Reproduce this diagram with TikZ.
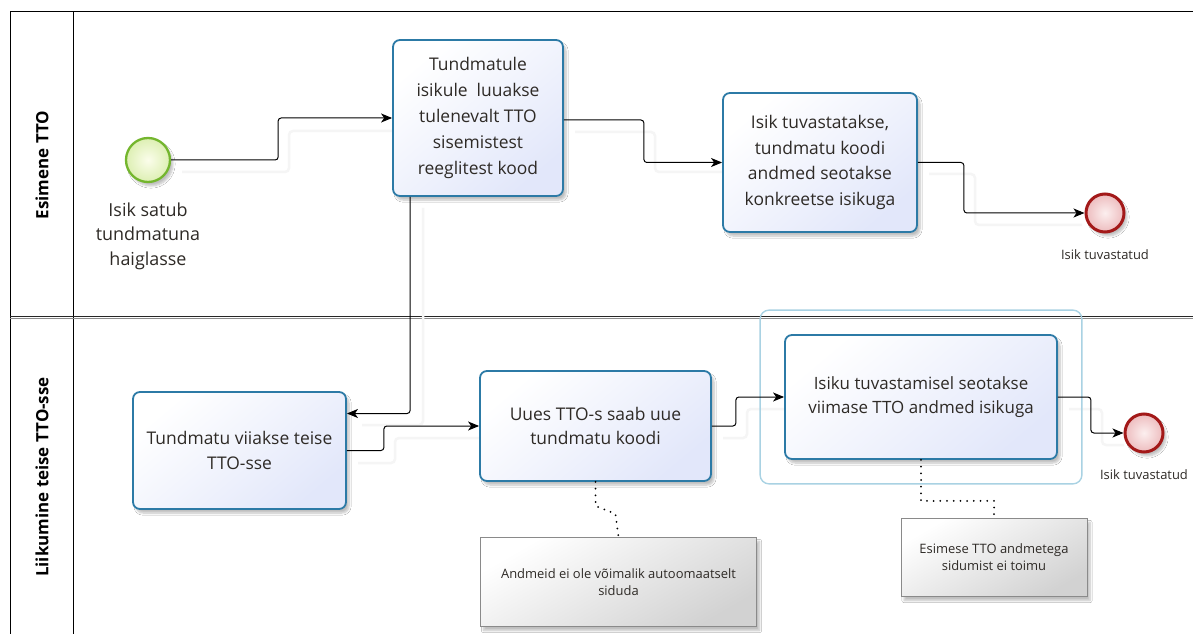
\documentclass[tikz,border=0pt]{standalone}
\usepackage{fontspec}
\setmainfont{Open Sans}
\usetikzlibrary{arrows.meta,shadows.blur,fit}
\definecolor{taskedge}{HTML}{2C7AA6}
\definecolor{taskfill}{HTML}{E2E7FA}
\definecolor{startedge}{HTML}{74B62E}
\definecolor{startin}{HTML}{FBFDEB}
\definecolor{startout}{HTML}{DDEFB3}
\definecolor{endedge}{HTML}{A31919}
\definecolor{endin}{HTML}{FCEFEF}
\definecolor{endout}{HTML}{EDBCBE}
\definecolor{notefill}{HTML}{D2D2D2}
\definecolor{noteedge}{HTML}{8A8A8A}
\definecolor{selblue}{HTML}{A9D2E3}
\definecolor{ink}{HTML}{2E2A26}
\begin{document}
\begin{tikzpicture}[x=1bp,y=-1bp,
  softshadow/.style={blur shadow={shadow xshift=3bp, shadow yshift=-4bp,
      shadow blur steps=6, shadow opacity=25}},
  task/.style={draw=taskedge, line width=1.8bp, rounded corners=7bp,
      top color=white, bottom color=taskfill, shading angle=40,
      softshadow, align=center, text=ink, inner sep=2bp,
      font=\fontsize{17.5}{26}\selectfont},
  startev/.style={circle, minimum size=44bp, inner sep=0pt, draw=startedge,
      line width=2.3bp, inner color=startin, outer color=startout, softshadow},
  endev/.style={circle, minimum size=38bp, inner sep=0pt, draw=endedge,
      line width=3bp, inner color=endin, outer color=endout, softshadow},
  evlabel/.style={align=center, text=ink, inner sep=0pt},
  note/.style={draw=noteedge, line width=0.8bp, top color=white,
      bottom color=notefill, shading angle=30, softshadow,
      align=center, text=ink, inner sep=2bp,
      font=\fontsize{13}{17}\selectfont},
  lanelabel/.style={rotate=90, font=\bfseries\fontsize{17}{20}\selectfont, text=black},
  flow/.style={draw=black, line width=1bp, rounded corners=3bp,
      -{Stealth[length=11bp,width=9bp,inset=3bp]}},
  ghost/.style={draw=black!4, line width=2.5bp, rounded corners=4bp},
  assoc/.style={draw=black, line width=2bp, line cap=round,
      dash pattern=on 0bp off 6.7bp},
  selbox/.style={draw=selblue, line width=1.4bp, rounded corners=9bp, inner sep=24bp}
]
\useasboundingbox (0,0) rectangle (1193,634);
\fill[white] (0,0) rectangle (1193,634);

% pool and lanes
\draw[line width=1bp] (1193,12) -- (10,12) -- (10,634);
\draw[line width=1bp] (73,12) -- (73,634);
\draw[line width=1bp, black!85] (10,316) -- (1193,316);
\draw[line width=1bp, black!45] (10,318.5) -- (1193,318.5);
\node[lanelabel] (lane1) at (42,165) {Esimene TTO};
\node[lanelabel] (lane2) at (42,477) {Liikumine teise TTO-sse};

% faint ghost copies of the sequence flows
\begin{scope}[shift={(12,12)}]
  \draw[ghost] (170,160) -- (277,160) -- (277,119) -- (380,119);
  \draw[ghost] (563,120) -- (643,120) -- (643,160) -- (710,160);
  \draw[ghost] (917,162) -- (963,162) -- (963,213) -- (1070,213);
  \draw[ghost] (411,196) -- (411,413) -- (350,413);
  \draw[ghost] (346,451) -- (383,451) -- (383,426) -- (468,426);
  \draw[ghost] (711,426) -- (735,426) -- (735,397) -- (772,397);
  \draw[ghost] (1057,397) -- (1090,397) -- (1090,433) -- (1112,433);
\end{scope}

% events
\node[startev] (s) at (148,160) {};
\node[evlabel, font=\fontsize{18}{24.5}\selectfont] (sl) at (148,236)
  {Isik satub\\tundmatuna\\haiglasse};
\node[endev] (e1) at (1105,213) {};
\node[evlabel, font=\fontsize{13}{16}\selectfont] (e1l) at (1105,255) {Isik tuvastatud};
\node[endev] (e2) at (1144,433) {};
\node[evlabel, font=\fontsize{13}{16}\selectfont] (e2l) at (1144,475) {Isik tuvastatud};

% tasks
\node[task, minimum width=170bp, minimum height=156bp] (t1) at (478,118)
  {Tundmatule\\isikule~ luuakse\\tulenevalt TTO\\sisemistest\\reeglitest kood};
\node[task, minimum width=194bp, minimum height=139bp] (t2) at (820,162.5)
  {Isik tuvastatakse,\\tundmatu koodi\\andmed seotakse\\konkreetse isikuga};
\node[task, minimum width=213bp, minimum height=117bp, font=\fontsize{17.5}{25}\selectfont] (t3) at (239.5,450.5)
  {Tundmatu viiakse teise\\TTO-sse};
\node[task, minimum width=231bp, minimum height=110bp, font=\fontsize{17.5}{25}\selectfont] (t4) at (595.5,426)
  {Uues TTO-s saab uue\\tundmatu koodi};
\node[task, minimum width=272bp, minimum height=124bp, font=\fontsize{17}{24}\selectfont] (t5) at (921,397)
  {Isiku tuvastamisel seotakse\\viimase TTO andmed isikuga};
\node[selbox, fit=(t5)] (sel) {};

% annotations
\node[note, minimum width=276bp, minimum height=89bp] (a1) at (618.5,582)
  {Andmeid ei ole võimalik autoomaatselt\\siduda};
\node[note, minimum width=186bp, minimum height=78bp] (a2) at (994,557.5)
  {Esimese TTO andmetega\\sidumist ei toimu};

% sequence flows
\draw[flow] (s.east) -- ++(107,0) |- (t1.west);
\draw[flow] ([yshift=-2bp]t1.east) -- ++(80,0) |- (t2.west);
\draw[flow] (t2.east) -- ++(46,0) |- (e1.west);
\draw[flow] ([xshift=18bp]t1.south west) |- ([yshift=37bp]t3.east);
\draw[flow] (t3.east) -- ++(37,0) |- (t4.west);
\draw[flow] (t4.east) -- ++(24,0) |- (t5.west);
\draw[flow] (t5.east) -- ++(33,0) |- (e2.west);

% associations
\draw[assoc] (t4.south) -- ++(0,24) -- ++(20,8) -- (a1.north);
\draw[assoc] (t5.south) -- ++(0,41) -| (a2.north);
\end{tikzpicture}
\end{document}
